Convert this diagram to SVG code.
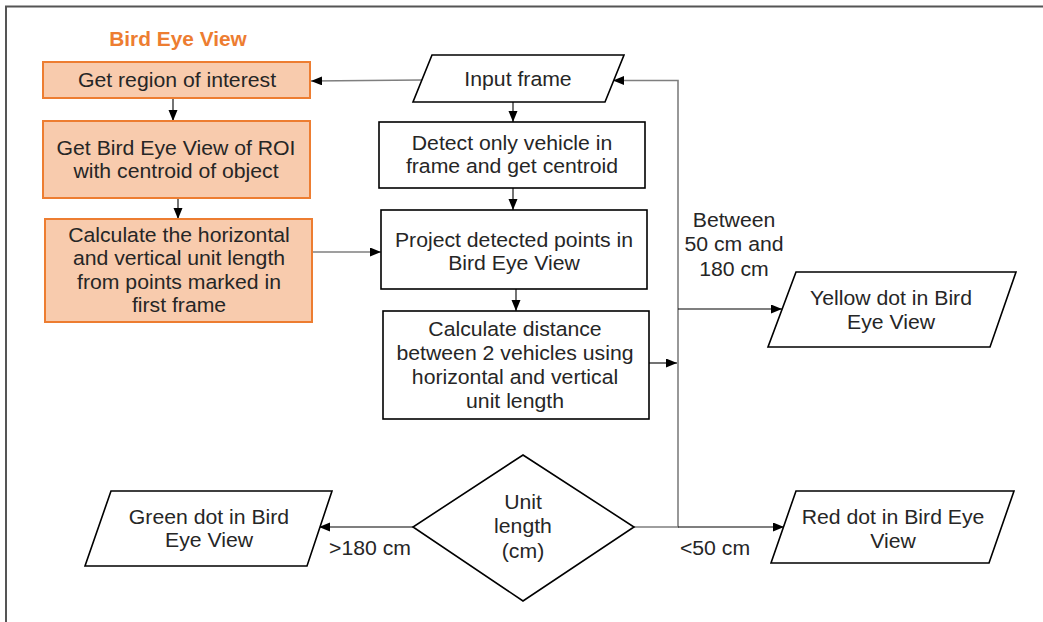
<svg xmlns="http://www.w3.org/2000/svg" width="1043" height="622" viewBox="0 0 1043 622">
  <style>
    .t { font-family: "Liberation Sans", Arial, sans-serif; font-size: 19.3px; fill: #262626; text-anchor: middle; }
    .title { font-family: "Liberation Sans", Arial, sans-serif; font-size: 19.5px; font-weight: bold; fill: #ED7D31; text-anchor: middle; }
    .proc { fill: #ffffff; stroke: #000000; stroke-width: 1.6; }
    .bev { fill: #F8CBAD; stroke: #ED7D31; stroke-width: 2; }
    .io { fill: #ffffff; stroke: #000000; stroke-width: 1.6; stroke-linejoin: miter; }
    .ln { fill: none; stroke: #000000; stroke-width: 1.1; }
    .lg { fill: none; stroke: #7F7F7F; stroke-width: 1.6; }
  </style>
  <defs>
    <marker id="arr" markerUnits="userSpaceOnUse" markerWidth="12" markerHeight="10" refX="11" refY="4.5" orient="auto">
      <path d="M0,0 L11,4.5 L0,9 z" fill="#000000"/>
    </marker>
  </defs>

  <rect width="1043" height="622" fill="#ffffff"/>
  <!-- outer frame (top and left edges) -->
  <path d="M6,622 V6.5 H1043" fill="none" stroke="#555555" stroke-width="2"/>

  <!-- connectors -->
  <g id="connectors">
    <path class="lg" d="M422,80 L311,81" marker-end="url(#arr)"/>
    <path class="ln" d="M173,99 V121" marker-end="url(#arr)"/>
    <path class="ln" d="M178,198 V219" marker-end="url(#arr)"/>
    <path class="lg" d="M312,252 H381" marker-end="url(#arr)"/>
    <path class="ln" d="M513,102 V122" marker-end="url(#arr)"/>
    <path class="ln" d="M513,188 V210" marker-end="url(#arr)"/>
    <path class="ln" d="M516,289 V311" marker-end="url(#arr)"/>
    <path class="ln" d="M649,363 H677" marker-end="url(#arr)"/>
    <path class="lg" d="M634,527 H678 V80.5 H613" marker-end="url(#arr)"/>
    <path class="ln" d="M678,309 H782" marker-end="url(#arr)"/>
    <path class="ln" d="M678,527 H784" marker-end="url(#arr)"/>
    <path class="ln" d="M413,527 H319" marker-end="url(#arr)"/>
    <text class="t" transform="translate(734,227) scale(1.1,1)"><tspan x="0">Between</tspan><tspan x="0" dy="24.5">50 cm and</tspan><tspan x="0" dy="24.5">180 cm</tspan></text>
    <text class="t" transform="translate(370,555) scale(1.1,1)">&gt;180 cm</text>
    <text class="t" transform="translate(715,555) scale(1.1,1)">&lt;50 cm</text>
  </g>

  <!-- Bird Eye View branch -->
  <g id="bev-title">
    <text class="title" transform="translate(178,46) scale(1.07,1)">Bird Eye View</text>
  </g>
  <g id="roi">
    <rect class="bev" x="43" y="62" width="267" height="36"/>
    <text class="t" transform="translate(177,87) scale(1.1,1)">Get region of interest</text>
  </g>
  <g id="bev-roi">
    <rect class="bev" x="43" y="121" width="267" height="77"/>
    <text class="t" transform="translate(176,155) scale(1.1,1)"><tspan x="0">Get Bird Eye View of ROI</tspan><tspan x="0" dy="23.5">with centroid of object</tspan></text>
  </g>
  <g id="unit-length">
    <rect class="bev" x="45" y="219" width="267" height="103"/>
    <text class="t" transform="translate(179,242) scale(1.1,1)"><tspan x="0">Calculate the horizontal</tspan><tspan x="0" dy="23.5">and vertical unit length</tspan><tspan x="0" dy="23.5">from points marked in</tspan><tspan x="0" dy="23.5">first frame</tspan></text>
  </g>

  <!-- main pipeline -->
  <g id="input-frame">
    <polygon class="io" points="432,55 624,55 605,102 413,102"/>
    <text class="t" transform="translate(518,86) scale(1.1,1)">Input frame</text>
  </g>
  <g id="detect">
    <rect class="proc" x="379" y="122" width="266" height="66"/>
    <text class="t" transform="translate(512,150) scale(1.1,1)"><tspan x="0">Detect only vehicle in</tspan><tspan x="0" dy="23.5">frame and get centroid</tspan></text>
  </g>
  <g id="project">
    <rect class="proc" x="381" y="210" width="266" height="79"/>
    <text class="t" transform="translate(514,247) scale(1.1,1)"><tspan x="0">Project detected points in</tspan><tspan x="0" dy="23.5">Bird Eye View</tspan></text>
  </g>
  <g id="distance">
    <rect class="proc" x="383" y="311" width="266" height="108"/>
    <text class="t" transform="translate(515,336) scale(1.1,1)"><tspan x="0">Calculate distance</tspan><tspan x="0" dy="24">between 2 vehicles using</tspan><tspan x="0" dy="24">horizontal and vertical</tspan><tspan x="0" dy="24">unit length</tspan></text>
  </g>

  <!-- decision and outputs -->
  <g id="decision">
    <polygon class="io" points="523,455 634,527 523,601 413,527"/>
    <text class="t" transform="translate(523,509) scale(1.1,1)"><tspan x="0">Unit</tspan><tspan x="0" dy="24.5">length</tspan><tspan x="0" dy="24.5">(cm)</tspan></text>
  </g>
  <g id="yellow-dot">
    <polygon class="io" points="796,272 1016,272 990,347 768,347"/>
    <text class="t" transform="translate(891,305) scale(1.1,1)"><tspan x="0">Yellow dot in Bird</tspan><tspan x="0" dy="24">Eye View</tspan></text>
  </g>
  <g id="red-dot">
    <polygon class="io" points="796,491 1014,491 989,563 771,563"/>
    <text class="t" transform="translate(893,524) scale(1.1,1)"><tspan x="0">Red dot in Bird Eye</tspan><tspan x="0" dy="24">View</tspan></text>
  </g>
  <g id="green-dot">
    <polygon class="io" points="111,491 332,491 307,566 85,566"/>
    <text class="t" transform="translate(209,524) scale(1.1,1)"><tspan x="0">Green dot in Bird</tspan><tspan x="0" dy="23.5">Eye View</tspan></text>
  </g>
</svg>
